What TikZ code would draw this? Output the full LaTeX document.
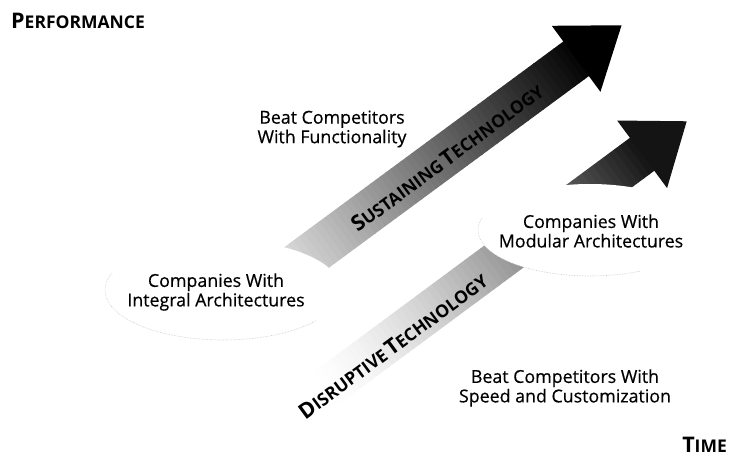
\documentclass[tikz,border=0pt]{standalone}
\usepackage{fontspec}
\setmainfont{Open Sans}
\newfontfamily\medfont{Open Sans}[FakeBold=0.45]
% hand-made small capitals: a large initial followed by smaller capitals
\newcommand\initialcap[1]{{\fontsize{21.5}{21.5}\selectfont\bfseries #1}}
\newcommand\restcaps[1]{{\fontsize{17.5}{17.5}\selectfont\bfseries #1}}
\begin{document}
\begin{tikzpicture}[x=1pt,y=-1pt,
  bodytext/.style={align=center, inner sep=0pt, font=\medfont\fontsize{17.8}{19.5}\selectfont},
  axistext/.style={inner sep=0pt},
  bandtext/.style={inner sep=0pt, rotate=36.4},
  blobfill/.style={fill=white},
  rim/.style={draw=gray!45, line width=0.6pt, densely dotted},
]
\useasboundingbox (0,0) rectangle (731,457);

% ---- disruptive technology arrow (band runs behind the modular blob) ----
\begin{scope}[shift={(642.5,154)}, rotate=36.5]
  \foreach \i in {0,...,59} {
    \pgfmathsetmacro\ta{-400+\i*6.66667}
    \pgfmathsetmacro\tb{\ta+7.4}
    \pgfmathsetmacro\sfrac{(\i+0.5)/60}
    \pgfmathsetmacro\shadeval{92*\sfrac*sqrt(\sfrac)}
    \fill[black!\shadeval] (\ta,-20.5) rectangle (\tb,20.5);
  }
  \fill[black!92] (-0.5,-42) -- (55,0) -- (-0.5,42) -- cycle;
\end{scope}

% ---- sustaining technology arrow (band starts behind the integral blob) ----
\begin{scope}[shift={(576.5,58.5)}, rotate=36.4]
  \foreach \i in {0,...,59} {
    \pgfmathsetmacro\ta{-380+\i*6.33333}
    \pgfmathsetmacro\tb{\ta+7.1}
    \pgfmathsetmacro\shadeval{8+90*((\i+0.5)/60)}
    \fill[black!\shadeval] (\ta,-21.5) rectangle (\tb,21.5);
  }
  \fill[black] (-0.5,-41) -- (56,0) -- (-0.5,41) -- cycle;
  \node[bandtext] (sustaining) at (-163,3)
    {\initialcap{S}\restcaps{USTAINING} \initialcap{T}\restcaps{ECHNOLOGY}};
\end{scope}

% ---- blobs ----
\coordinate (mc) at (590,230);
\coordinate (ic) at (223,290);
\fill[blobfill] (mc) ellipse [x radius=112pt, y radius=46pt];
\fill[blobfill] (ic) ellipse [x radius=118pt, y radius=50pt];
\draw[rim] (mc) ++(165:112pt and 46pt)
  arc[start angle=165, end angle=297, x radius=112pt, y radius=46pt];
\draw[rim] (ic) ++(160:118pt and 50pt)
  arc[start angle=160, end angle=322, x radius=118pt, y radius=50pt];

% disruptive label sits on the lower part of its band
\begin{scope}[shift={(642.5,154)}, rotate=36.5]
  \node[bandtext] (disruptive) at (-315,6)
    {\initialcap{D}\restcaps{ISRUPTIVE} \initialcap{T}\restcaps{ECHNOLOGY}};
\end{scope}

% ---- texts ----
\node[bodytext] (integral) at (216,292) {Companies With\\Integral Architectures};
\node[bodytext] (modular) at (591,231) {Companies With\\Modular Architectures};
\node[bodytext] (functionality) at (332,129) {Beat Competitors\\With Functionality};
\node[bodytext] (speed) at (565,388) {Beat Competitors With\\Speed and Customization};

\node[axistext, anchor=base west] (performance) at (11,29)
  {\initialcap{P}\restcaps{ERFORMANCE}};
\node[axistext, anchor=base east] (time) at (727,452)
  {\initialcap{T}\restcaps{IME}};
\end{tikzpicture}
\end{document}
